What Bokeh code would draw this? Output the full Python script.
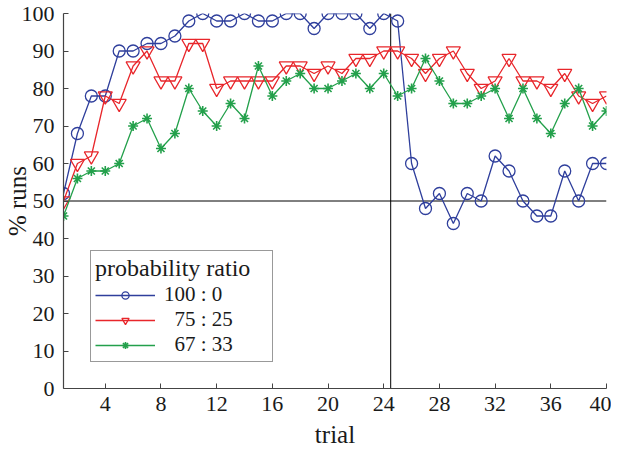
from bokeh.plotting import figure
from bokeh.models import Range1d, Legend, LegendItem
from bokeh.embed import file_html
from bokeh.resources import INLINE

# ---- data ----
trials = list(range(1, 41))
ratio_100_0 = [52, 68, 78, 78, 90, 90, 92, 92, 94, 98,
               100, 98, 98, 100, 98, 98, 100, 100, 96, 100,
               100, 100, 96, 100, 98, 60, 48, 52, 44, 52,
               50, 62, 58, 50, 46, 46, 58, 50, 60, 60]
ratio_75_25 = [50, 60, 62, 78, 76, 86, 90, 82, 82, 92,
               92, 80, 82, 82, 82, 82, 86, 86, 84, 86,
               84, 88, 88, 90, 90, 88, 84, 88, 90, 84,
               80, 82, 88, 82, 82, 80, 84, 78, 76, 78]
ratio_67_33 = [46, 56, 58, 58, 60, 70, 72, 64, 68, 80,
               74, 70, 76, 72, 86, 78, 82, 84, 80, 80,
               82, 84, 80, 84, 78, 80, 88, 82, 76, 76,
               78, 80, 72, 80, 72, 68, 76, 80, 70, 74]
series_labels = ["100 : 0", "\u200275 : 25", "\u200267 : 33"]
x_ticks = [4, 8, 12, 16, 20, 24, 28, 32, 36, 40]
y_ticks = [0, 10, 20, 30, 40, 50, 60, 70, 80, 90, 100]
chance_level = 50
switch_trial = 24.5

FONT = "Liberation Serif"
BLUE = "#2f3f9c"
RED = "#e8262b"
GREEN = "#23a04b"

p = figure(frame_width=543, frame_height=375,
           min_border_left=59, min_border_right=5,
           min_border_top=13, min_border_bottom=50,
           x_range=Range1d(1, 40), y_range=Range1d(0, 100),
           output_backend="svg", toolbar_location=None)

p.xgrid.visible = False
p.ygrid.visible = False
p.outline_line_color = None

# reference lines
p.line([trials[0], trials[-1]], [chance_level, chance_level], line_color="black", line_width=1)
p.line([switch_trial, switch_trial], [y_ticks[0], y_ticks[-1]], line_color="black", line_width=1)

l1 = p.line(trials, ratio_100_0, line_color=BLUE, line_width=1.3)
s1 = p.scatter(trials, ratio_100_0, marker="circle", size=12, line_color=BLUE,
               fill_color=None, line_width=1.3)
l2 = p.line(trials, ratio_75_25, line_color=RED, line_width=1.3)
s2 = p.scatter(trials, ratio_75_25, marker="inverted_triangle", size=14, line_color=RED,
               fill_color=None, line_width=1.3)
l3 = p.line(trials, ratio_67_33, line_color=GREEN, line_width=1.3)
s3 = p.scatter(trials, ratio_67_33, marker="asterisk", size=10, line_color=GREEN,
               line_width=1.6)

for ax in (p.xaxis, p.yaxis):
    ax.major_tick_in = 5
    ax.major_tick_out = 0
    ax.minor_tick_line_color = None
    ax.axis_line_color = "#444444"
    ax.major_tick_line_color = "#444444"
    ax.axis_line_width = 1.2
    ax.major_label_text_font = FONT
    ax.major_label_text_font_size = "22px"
    ax.major_label_text_color = "#1a1a1a"
    ax.axis_label_text_font = FONT
    ax.axis_label_text_font_size = "25px"
    ax.axis_label_text_font_style = "normal"
    ax.axis_label_text_color = "#1a1a1a"

p.xaxis.ticker = x_ticks
p.yaxis.ticker = y_ticks
p.xaxis.axis_label = "trial"
p.yaxis.axis_label = "% runs"
p.xaxis.major_label_standoff = 8
p.yaxis.major_label_standoff = 9
p.xaxis.axis_label_standoff = 7
p.yaxis.axis_label_standoff = -12

legend = Legend(items=[LegendItem(label=series_labels[0], renderers=[l1, s1]),
                       LegendItem(label=series_labels[1], renderers=[l2, s2]),
                       LegendItem(label=series_labels[2], renderers=[l3, s3])],
                location=(27, 26), title="probability ratio")
legend.title_text_font = FONT
legend.title_text_font_size = "24px"
legend.title_text_font_style = "normal"
legend.title_text_color = "#1a1a1a"
legend.title_text_line_height = 0.9
legend.label_text_font = FONT
legend.label_text_font_size = "21px"
legend.label_text_color = "#1a1a1a"
legend.label_text_line_height = 0.9
legend.label_height = 18
legend.label_width = 104
legend.glyph_width = 60
legend.glyph_height = 18
legend.label_standoff = 9
legend.spacing = 0
legend.padding = 4
legend.margin = 0
legend.title_standoff = 0
legend.border_line_color = "#333333"
legend.border_line_width = 1
legend.background_fill_alpha = 1
p.add_layout(legend)

open("out.html", "w").write(file_html(p, INLINE))
